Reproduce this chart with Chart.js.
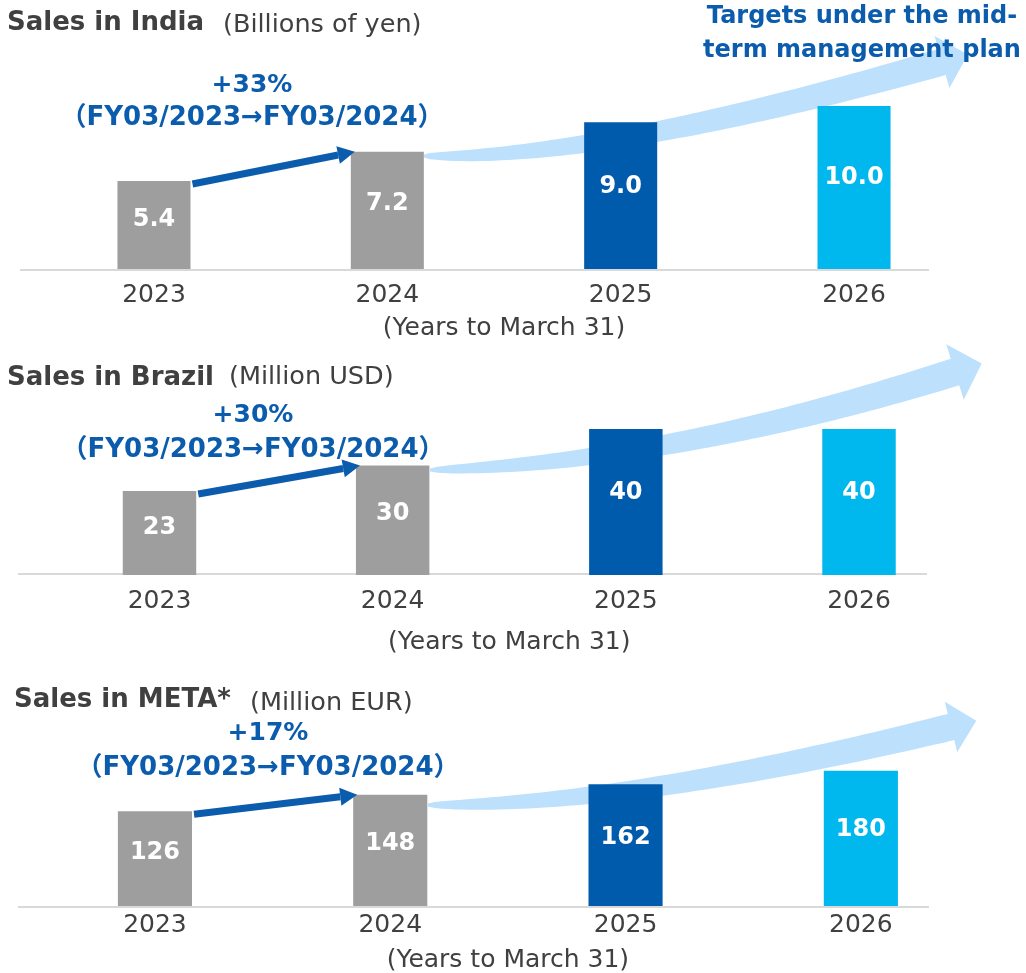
<!DOCTYPE html>
<html>
<head>
<meta charset="utf-8">
<script src="https://cdn.jsdelivr.net/npm/chart.js@4.4.1/dist/chart.umd.min.js"></script>
<style>
  html, body { margin: 0; padding: 0; background: #fff; width: 1026px; height: 973px; overflow: hidden; }
  .panel { position: absolute; left: 0; width: 1026px; }
  canvas { display: block; }
</style>
</head>
<body>
<div class="panel" style="top:0px"><canvas id="india" width="1026" height="350"></canvas></div>
<div class="panel" style="top:330px"><canvas id="brazil" width="1026" height="335"></canvas></div>
<div class="panel" style="top:660px"><canvas id="meta" width="1026" height="320"></canvas></div>
<script>
const years = ['2023', '2024', '2025', '2026'];
const indiaSales = [5.4, 7.2, 9.0, 10.0];
const brazilSales = [23, 30, 40, 40];
const metaSales = [126, 148, 162, 180];
const growthLabels = ['+33%', '+30%', '+17%'];
const periodLabel = '（FY03/2023→FY03/2024）';
const axisTitle = '(Years to March 31)';
const targetNote = ['Targets under the mid-', 'term management plan'];

const FONT = '"DejaVu Sans", "Noto Sans", "Noto Sans CJK JP", sans-serif';
const GREY_TEXT = '#404040';
const BLUE_TEXT = '#0b5cad';
const barColors = ['#9e9e9e', '#9e9e9e', '#005bac', '#00b7ee'];
const ARROW_FILL = '#bde0fc';

// big curved arrow: quadratic curve, width grows along it, head at the end
function drawBigArrow(ctx, a) {
  const pt = t => ({
    x: (1 - t) * (1 - t) * a.p0[0] + 2 * (1 - t) * t * a.c[0] + t * t * a.p2[0],
    y: (1 - t) * (1 - t) * a.p0[1] + 2 * (1 - t) * t * a.c[1] + t * t * a.p2[1]
  });
  const tan = t => {
    const dx = 2 * (1 - t) * (a.c[0] - a.p0[0]) + 2 * t * (a.p2[0] - a.c[0]);
    const dy = 2 * (1 - t) * (a.c[1] - a.p0[1]) + 2 * t * (a.p2[1] - a.c[1]);
    const l = Math.hypot(dx, dy);
    return { x: dx / l, y: dy / l };
  };
  const steps = 60;
  const upper = [], lower = [];
  for (let i = 0; i <= steps; i++) {
    const t = i / steps;
    const p = pt(t), d = tan(t);
    const w = (a.w0 + (a.w1 - a.w0) * Math.sqrt(t)) / 2;
    upper.push([p.x + d.y * w, p.y - d.x * w]);
    lower.push([p.x - d.y * w, p.y + d.x * w]);
  }
  const end = pt(1), d = tan(1);
  ctx.save();
  ctx.fillStyle = ARROW_FILL;
  ctx.beginPath();
  ctx.moveTo(upper[0][0], upper[0][1]);
  upper.forEach(p => ctx.lineTo(p[0], p[1]));
  ctx.lineTo(end.x + d.y * a.hw, end.y - d.x * a.hw);
  ctx.lineTo(end.x + d.x * a.hl, end.y + d.y * a.hl);
  ctx.lineTo(end.x - d.y * a.hw, end.y + d.x * a.hw);
  for (let i = lower.length - 1; i >= 0; i--) ctx.lineTo(lower[i][0], lower[i][1]);
  ctx.closePath();
  ctx.fill();
  ctx.restore();
}

function drawGrowthArrow(ctx, x0, y0, x1, y1) {
  const l = Math.hypot(x1 - x0, y1 - y0);
  const ux = (x1 - x0) / l, uy = (y1 - y0) / l;
  const hl = 17, hw = 9;
  ctx.save();
  ctx.strokeStyle = BLUE_TEXT;
  ctx.fillStyle = BLUE_TEXT;
  ctx.lineWidth = 7;
  ctx.beginPath();
  ctx.moveTo(x0, y0);
  ctx.lineTo(x1 - ux * hl, y1 - uy * hl);
  ctx.stroke();
  ctx.beginPath();
  ctx.moveTo(x1, y1);
  ctx.lineTo(x1 - ux * hl - uy * hw, y1 - uy * hl + ux * hw);
  ctx.lineTo(x1 - ux * hl + uy * hw, y1 - uy * hl - ux * hw);
  ctx.closePath();
  ctx.fill();
  ctx.restore();
}

function text(ctx, str, x, y, font, color, align) {
  ctx.font = font;
  ctx.fillStyle = color;
  ctx.textAlign = align || 'left';
  ctx.textBaseline = 'alphabetic';
  ctx.fillText(str, x, y);
}

function decor(cfg) {
  return {
    id: 'decor',
    beforeDatasetsDraw(chart) {
      const ctx = chart.ctx;
      const y0 = chart.scales.y.getPixelForValue(0) + cfg.lineDy;
      ctx.save();
      ctx.strokeStyle = '#d9d9d9';
      ctx.lineWidth = 2;
      ctx.beginPath();
      ctx.moveTo(cfg.lineX[0], y0);
      ctx.lineTo(cfg.lineX[1], y0);
      ctx.stroke();
      ctx.restore();
      drawBigArrow(ctx, cfg.arrow);
    },
    afterDatasetsDraw(chart) {
      const ctx = chart.ctx;
      const bars = chart.getDatasetMeta(0).data;
      const vals = chart.data.datasets[0].data;
      bars.forEach((el, i) => {
        const y = el.y + 0.44 * (el.base - el.y);
        ctx.save();
        ctx.font = 'bold 24px ' + FONT;
        ctx.fillStyle = '#fff';
        ctx.textAlign = 'center';
        ctx.textBaseline = 'middle';
        ctx.fillText(vals[i].toFixed(cfg.decimals), el.x, y);
        ctx.restore();
      });
      const b0 = bars[0], b1 = bars[1];
      drawGrowthArrow(ctx, b0.x + b0.width / 2 + 2, b0.y + 3, b1.x - b1.width / 2 + 4, b1.y);

      const off = cfg.top;
      text(ctx, cfg.title, cfg.titlePos[0], cfg.titlePos[1] - off, 'bold 26px ' + FONT, GREY_TEXT);
      text(ctx, cfg.unit, cfg.unitPos[0], cfg.unitPos[1] - off, '25.5px ' + FONT, GREY_TEXT);
      text(ctx, cfg.growth, cfg.growthPos[0], cfg.growthPos[1] - off, 'bold 25px ' + FONT, BLUE_TEXT, 'center');
      text(ctx, periodLabel, cfg.periodPos[0], cfg.periodPos[1] - off, 'bold 26px ' + FONT, BLUE_TEXT, 'center');
      if (cfg.note) {
        text(ctx, targetNote[0], 862, 23 - off, 'bold 24px ' + FONT, BLUE_TEXT, 'center');
        text(ctx, targetNote[1], 862, 57 - off, 'bold 24px ' + FONT, BLUE_TEXT, 'center');
      }
    }
  };
}

function makeChart(id, values, cfg) {
  return new Chart(document.getElementById(id), {
    type: 'bar',
    data: {
      labels: years,
      datasets: [{
        data: values,
        backgroundColor: barColors,
        barPercentage: cfg.barPct,
        categoryPercentage: 1
      }]
    },
    options: {
      responsive: false,
      animation: false,
      layout: { padding: cfg.padding },
      plugins: { legend: { display: false }, tooltip: { enabled: false } },
      scales: {
        x: {
          grid: { display: false, drawTicks: false },
          border: { display: false },
          ticks: { color: GREY_TEXT, font: { family: FONT, size: 25 }, padding: cfg.tickPad },
          title: {
            display: true, text: axisTitle, color: GREY_TEXT,
            font: { family: FONT, size: 25 }, padding: { top: 0, bottom: 0 }
          },
          afterFit: s => { s.height = cfg.axisH; }
        },
        y: { display: false, min: 0, max: cfg.yMax }
      }
    },
    plugins: [decor(cfg)]
  });
}

makeChart('india', indiaSales, {
  top: 0, decimals: 1, yMax: 14, barPct: 0.313, tickPad: 11, axisH: 74,
  padding: { top: 40.8, left: 37.3, right: 55.3, bottom: 7 },
  lineX: [20, 929], lineDy: 1,
  arrow: { p0: [424, 156], c: [600, 160], p2: [942, 62], w0: 3, w1: 27, hl: 27, hw: 27 },
  title: 'Sales in India', titlePos: [7, 30],
  unit: '(Billions of yen)', unitPos: [223, 32],
  growth: growthLabels[0], growthPos: [252, 92], periodPos: [252, 125],
  note: true
});

makeChart('brazil', brazilSales, {
  top: 330, decimals: 0, yMax: 60, barPct: 0.315, tickPad: 11, axisH: 82,
  padding: { top: 26, left: 42.9, right: 50.4, bottom: 8 },
  lineX: [18, 927], lineDy: -1,
  arrow: { p0: [430, 140], c: [668, 133], p2: [955, 42], w0: 3, w1: 28, hl: 28, hw: 29 },
  title: 'Sales in Brazil', titlePos: [7, 385],
  unit: '(Million USD)', unitPos: [229, 384],
  growth: growthLabels[1], growthPos: [253, 422], periodPos: [253, 457],
  note: false
});

makeChart('meta', metaSales, {
  top: 660, decimals: 0, yMax: 300, barPct: 0.315, tickPad: 4, axisH: 69,
  padding: { top: 20.4, left: 37.3, right: 47.5, bottom: 5 },
  lineX: [18, 929], lineDy: 1,
  arrow: { p0: [428, 145], c: [630, 146], p2: [951, 67], w0: 3, w1: 27, hl: 26, hw: 26 },
  title: 'Sales in META*', titlePos: [14, 707],
  unit: '(Million EUR)', unitPos: [250, 710],
  growth: growthLabels[2], growthPos: [268, 740], periodPos: [268, 775],
  note: false
});
</script>
</body>
</html>
